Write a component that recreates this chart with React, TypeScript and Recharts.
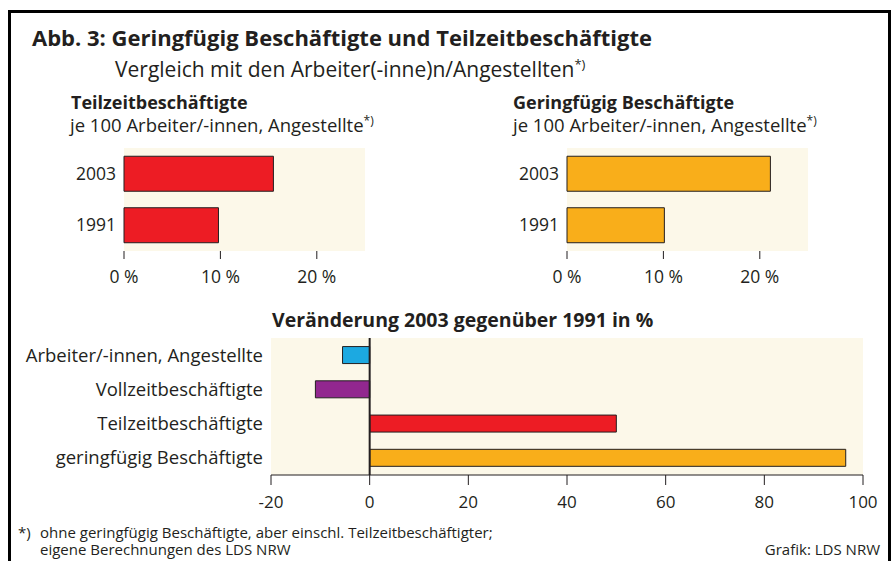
import React from 'react';
import {
  BarChart,
  Bar,
  XAxis,
  YAxis,
  CartesianGrid,
  ReferenceLine,
  Cell,
} from 'recharts';

const years = ['2003', '1991'];
const teilzeitShare = [15.5, 9.8];
const geringShare = [21.1, 10.1];
const shareTicks = [0, 10, 20];

const changeCategories = [
  'Arbeiter/-innen, Angestellte',
  'Vollzeitbeschäftigte',
  'Teilzeitbeschäftigte',
  'geringfügig Beschäftigte',
];
const changeValues = [-5.5, -11, 50, 96.5];
const changeColors = ['#1CA9E1', '#92278F', '#ED1C24', '#F9AE1A'];
const changeTicks = [-20, 0, 20, 40, 60, 80, 100];

const INK = '#231F20';
const BEIGE = '#FCF8E9';
const FONT = "'Open Sans', sans-serif";

const teilzeitData = years.map((y, i) => ({ year: y, value: teilzeitShare[i] }));
const geringData = years.map((y, i) => ({ year: y, value: geringShare[i] }));
const changeData = changeCategories.map((c, i) => ({ name: c, value: changeValues[i] }));

interface SmallChartProps {
  data: { year: string; value: number }[];
  color: string;
  left: number;
  marginLeft: number;
}

// plot area is 241px wide, 0..25 %
const SmallChart: React.FC<SmallChartProps> = ({ data, color, left, marginLeft }) => (
  <div style={{ position: 'absolute', left, top: 140 }}>
    <BarChart
      layout="vertical"
      width={380}
      height={160}
      data={data}
      margin={{ top: 8, right: 380 - marginLeft - 60 - 241, left: marginLeft, bottom: 19 }}
      barCategoryGap="16%"
    >
      <CartesianGrid horizontal={false} vertical={false} fill={BEIGE} />
      <XAxis
        type="number"
        domain={[0, 25]}
        ticks={shareTicks}
        interval={0}
        tickFormatter={(v) => `${v} %`}
        axisLine={false}
        tickLine={{ stroke: INK }}
        tickSize={8}
        tickMargin={12}
        height={30}
        tick={{ fill: INK, fontSize: 17.5, fontFamily: FONT }}
      />
      <YAxis
        type="category"
        dataKey="year"
        width={60}
        axisLine={false}
        tickLine={false}
        tick={{ fill: INK, fontSize: 17.5, fontFamily: FONT }}
      />
      <Bar dataKey="value" fill={color} stroke={INK} strokeWidth={1} isAnimationActive={false} />
    </BarChart>
  </div>
);

export default function App() {
  return (
    <div
      style={{
        position: 'absolute',
        left: 0,
        top: 0,
        width: 892,
        height: 561,
        background: '#fff',
        overflow: 'hidden',
        fontFamily: FONT,
      }}
    >
      <SmallChart data={teilzeitData} color="#ED1C24" left={0} marginLeft={64} />
      <SmallChart data={geringData} color="#F9AE1A" left={440} marginLeft={67} />

      <div style={{ position: 'absolute', left: 0, top: 330 }}>
        <BarChart
          layout="vertical"
          width={892}
          height={200}
          data={changeData}
          margin={{ top: 8, right: 29, left: 21, bottom: 25 }}
          barCategoryGap="25%"
        >
          <CartesianGrid horizontal={false} vertical={false} fill={BEIGE} />
          <XAxis
            type="number"
            domain={[-20, 100]}
            ticks={changeTicks}
            interval={0}
            axisLine={{ stroke: INK }}
            tickLine={{ stroke: INK }}
            tickSize={10}
            tickMargin={11}
            height={30}
            tick={{ fill: INK, fontSize: 17, fontFamily: FONT }}
          />
          <YAxis
            type="category"
            dataKey="name"
            width={250}
            axisLine={false}
            tickLine={false}
            tick={{ fill: INK, fontSize: 18.5, fontFamily: FONT }}
          />
          <ReferenceLine x={0} stroke={INK} strokeWidth={2} />
          <Bar dataKey="value" stroke={INK} strokeWidth={1} isAnimationActive={false}>
            {changeData.map((d, i) => (
              <Cell key={d.name} fill={changeColors[i]} />
            ))}
          </Bar>
        </BarChart>
      </div>

      <svg
        width={892}
        height={561}
        style={{ position: 'absolute', left: 0, top: 0, pointerEvents: 'none' }}
      >
        <rect x={9.5} y={11.5} width={880} height={600} fill="none" stroke="#000" strokeWidth={3} />
        <g fill={INK} fontFamily={FONT}>
          <text x={32} y={46} fontSize={22} fontWeight="bold">
            Abb. 3: Geringfügig Beschäftigte und Teilzeitbeschäftigte
          </text>
          <text x={115} y={77} fontSize={21}>
            Vergleich mit den Arbeiter(-inne)n/Angestellten
            <tspan fontSize={13} dy={-8}>*)</tspan>
          </text>

          <text x={71} y={109} fontSize={18} fontWeight="bold">Teilzeitbeschäftigte</text>
          <text x={70} y={132} fontSize={18.5}>
            je 100 Arbeiter/-innen, Angestellte
            <tspan fontSize={12} dy={-7}>*)</tspan>
          </text>

          <text x={513} y={109} fontSize={18} fontWeight="bold">Geringfügig Beschäftigte</text>
          <text x={513} y={132} fontSize={18.5}>
            je 100 Arbeiter/-innen, Angestellte
            <tspan fontSize={12} dy={-7}>*)</tspan>
          </text>

          <text x={272} y={327} fontSize={19.5} fontWeight="bold">
            Veränderung 2003 gegenüber 1991 in %
          </text>

          <g fontSize={15}>
            <text x={18} y={538}>*)</text>
            <text x={40} y={538}>ohne geringfügig Beschäftigte, aber einschl. Teilzeitbeschäftigter;</text>
            <text x={40} y={555}>eigene Berechnungen des LDS NRW</text>
            <text x={880} y={555} textAnchor="end">Grafik: LDS NRW</text>
          </g>
        </g>
      </svg>
    </div>
  );
}
